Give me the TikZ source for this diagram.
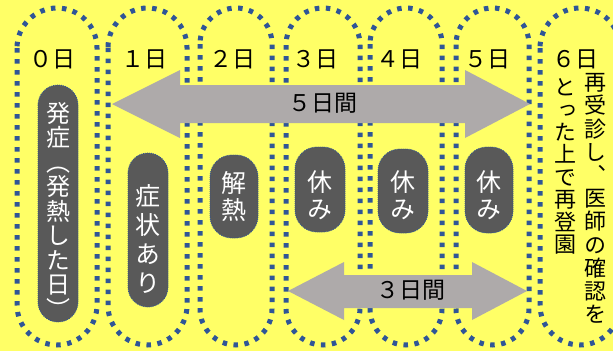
\documentclass[tikz,border=0pt]{standalone}
\usepackage{fontspec}
\newfontfamily\jp{Noto Sans CJK JP}
\newfontfamily\vjp[RawFeature=+vert]{Noto Sans CJK JP}
\definecolor{bgY}{RGB}{255,255,102}
\definecolor{dotB}{RGB}{47,85,151}
\definecolor{pillG}{RGB}{89,89,89}
\definecolor{arrG}{RGB}{174,170,170}
\begin{document}
\begin{tikzpicture}[x=1pt,y=-1pt,
  capsule/.style={draw=dotB, line width=5pt, dash pattern=on 4.5pt off 6.5pt},
  pill/.style={fill=pillG, draw=dotB, line width=0.8pt, dash pattern=on 1pt off 1pt},
  daylbl/.style={font=\jp\fontsize{23}{26}\selectfont, inner sep=0pt, text=black},
  midlbl/.style={font=\jp\fontsize{23}{26}\selectfont, inner sep=0pt, text=black},
  pilltxt/.style={text=white, align=center, inner sep=0pt},
  vtxt/.style={font=\vjp\fontsize{22}{23.2}\selectfont, align=center, inner sep=0pt, text=black}]
\useasboundingbox (0,0) rectangle (613,351);
\clip (0,0) rectangle (613,351);
\fill[bgY] (0,0) rectangle (613,351);
% day columns
\foreach \l/\r in {17/97,108/187,200/272,286/360,370/442,456/529,540/620} {
  \pgfmathsetmacro\rad{(\r-\l)/2}
  \draw[capsule, rounded corners=\rad pt] (\l,8) rectangle (\r,345);
}
% arrows
\fill[arrG] (112,104) -- (180,70) -- (180,85) -- (465,85) -- (465,70) -- (530,104)
  -- (465,138) -- (465,123) -- (180,123) -- (180,138) -- cycle;
\fill[arrG] (288,291) -- (344,262) -- (344,275) -- (472,275) -- (472,262) -- (527,291)
  -- (472,320) -- (472,308) -- (344,308) -- (344,320) -- cycle;
% pills
\draw[pill, rounded corners=20pt] (38,85) rectangle (78,322);
\draw[pill, rounded corners=20pt] (128,153) rectangle (168,307);
\draw[pill, rounded corners=22pt] (210,155) rectangle (258,238);
\draw[pill, rounded corners=22pt] (295,147) rectangle (345,232);
\draw[pill, rounded corners=22pt] (378,149) rectangle (428,233);
\draw[pill, rounded corners=22pt] (465,147) rectangle (513,233);
% day labels
\node[daylbl] (d0) at (52,59) {０日};
\node[daylbl] (d1) at (144,59) {１日};
\node[daylbl] (d2) at (232,59) {２日};
\node[daylbl] (d3) at (315,59) {３日};
\node[daylbl] (d4) at (399,59) {４日};
\node[daylbl] (d5) at (487,59) {５日};
\node[daylbl] (d6) at (575,59) {６日};
% arrow labels
\node[midlbl] (t5) at (323,103) {５日間};
\node[midlbl] (t3) at (411,290) {３日間};
% pill texts
\node[pilltxt, font=\vjp\fontsize{24}{24.5}\selectfont] (p0) at (58,210) {発\\症\\（\\発\\熱\\し\\た\\日\\）};
\node[pilltxt, font=\vjp\fontsize{25}{29}\selectfont] (p1) at (148,239) {症\\状\\あ\\り};
\node[pilltxt, font=\vjp\fontsize{25}{27}\selectfont] (p2) at (234,196) {解\\熱};
\node[pilltxt, font=\vjp\fontsize{25}{27}\selectfont] (p3) at (320,195) {休\\み};
\node[pilltxt, font=\vjp\fontsize{25}{27}\selectfont] (p4) at (403,195) {休\\み};
\node[pilltxt, font=\vjp\fontsize{25}{27}\selectfont] (p5) at (489,195) {休\\み};
% right vertical text
\node[vtxt] (r1) at (595,198.5) {再\\受\\診\\し\\、\\医\\師\\の\\確\\認\\を};
\node[vtxt, font=\vjp\fontsize{22}{22.4}\selectfont] (r2) at (565,166.5) {と\\っ\\た\\上\\で\\再\\登\\園};
\end{tikzpicture}
\end{document}
